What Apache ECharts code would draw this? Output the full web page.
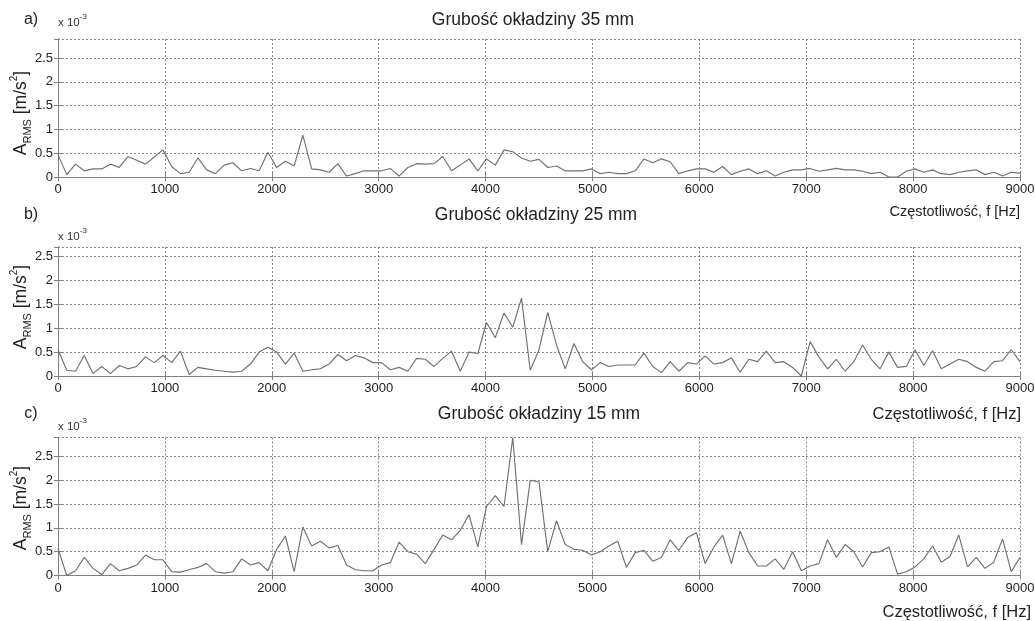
<!DOCTYPE html>
<html>
<head>
<meta charset="utf-8">
<title>Grubość okładziny – widmo A_RMS</title>
<script src="https://cdn.jsdelivr.net/npm/echarts@6/dist/echarts.min.js"></script>
<style>
  html, body { margin: 0; padding: 0; background: #fff; }
  #chart { width: 1035px; height: 621px; }
</style>
</head>
<body>
<div id="chart"></div>
<script>
// Spectrum bins: 0 … 9000 Hz split into 110 equal bins (111 points).
const FREQ_MAX_HZ = 9000;
const BIN_COUNT = 110;
const xTicks = [0, 1000, 2000, 3000, 4000, 5000, 6000, 7000, 8000, 9000];
const yTicks = [0, 0.5, 1, 1.5, 2, 2.5];

const panelLetters = ['a)', 'b)', 'c)'];
const panelTitles = ['Grubość okładziny 35 mm', 'Grubość okładziny 25 mm', 'Grubość okładziny 15 mm'];
const yMax = [2.9, 2.7, 2.9];

// A_RMS in units of 1e-3 m/s^2
const arms35 = [
  0.47, 0.05, 0.27, 0.13, 0.17, 0.17, 0.27, 0.20, 0.43, 0.35,
  0.27, 0.42, 0.57, 0.22, 0.07, 0.10, 0.40, 0.15, 0.07, 0.25,
  0.30, 0.13, 0.18, 0.13, 0.52, 0.20, 0.33, 0.23, 0.88, 0.17,
  0.15, 0.10, 0.28, 0.02, 0.07, 0.13, 0.13, 0.13, 0.18, 0.02,
  0.20, 0.28, 0.27, 0.28, 0.43, 0.13, 0.25, 0.38, 0.13, 0.38,
  0.25, 0.57, 0.53, 0.40, 0.33, 0.37, 0.20, 0.23, 0.13, 0.13,
  0.13, 0.17, 0.07, 0.10, 0.07, 0.07, 0.13, 0.38, 0.30, 0.38,
  0.32, 0.07, 0.13, 0.17, 0.17, 0.10, 0.22, 0.05, 0.12, 0.17,
  0.07, 0.13, 0.02, 0.10, 0.15, 0.15, 0.18, 0.12, 0.15, 0.18,
  0.15, 0.15, 0.12, 0.07, 0.10, 0.00, 0.00, 0.12, 0.17, 0.10,
  0.15, 0.07, 0.05, 0.10, 0.13, 0.15, 0.05, 0.10, 0.02, 0.10, 0.08
];
const arms25 = [
  0.55, 0.12, 0.10, 0.43, 0.05, 0.20, 0.05, 0.22, 0.15, 0.20,
  0.40, 0.28, 0.43, 0.28, 0.52, 0.03, 0.18, 0.15, 0.12, 0.10,
  0.08, 0.10, 0.25, 0.50, 0.60, 0.50, 0.25, 0.48, 0.10, 0.13,
  0.15, 0.25, 0.45, 0.32, 0.43, 0.38, 0.28, 0.28, 0.13, 0.18,
  0.10, 0.37, 0.35, 0.20, 0.37, 0.52, 0.10, 0.50, 0.47, 1.12,
  0.80, 1.32, 1.02, 1.63, 0.12, 0.55, 1.33, 0.65, 0.15, 0.68,
  0.30, 0.13, 0.28, 0.20, 0.23, 0.23, 0.23, 0.48, 0.20, 0.07,
  0.30, 0.10, 0.28, 0.25, 0.42, 0.25, 0.28, 0.38, 0.08, 0.35,
  0.30, 0.52, 0.28, 0.30, 0.18, 0.00, 0.72, 0.40, 0.15, 0.35,
  0.10, 0.30, 0.65, 0.35, 0.15, 0.50, 0.18, 0.20, 0.55, 0.22,
  0.53, 0.15, 0.25, 0.35, 0.30, 0.18, 0.10, 0.30, 0.32, 0.55, 0.30
];
const arms15 = [
  0.57, 0.00, 0.10, 0.38, 0.15, 0.02, 0.25, 0.10, 0.15, 0.22,
  0.43, 0.33, 0.33, 0.08, 0.07, 0.12, 0.17, 0.25, 0.08, 0.05,
  0.08, 0.35, 0.22, 0.27, 0.10, 0.55, 0.83, 0.08, 1.02, 0.62,
  0.72, 0.58, 0.63, 0.22, 0.12, 0.10, 0.10, 0.22, 0.27, 0.70,
  0.50, 0.45, 0.25, 0.55, 0.85, 0.75, 0.95, 1.28, 0.60, 1.45,
  1.68, 1.45, 2.90, 0.65, 2.00, 1.97, 0.50, 1.15, 0.65, 0.55,
  0.53, 0.43, 0.50, 0.62, 0.72, 0.17, 0.48, 0.53, 0.30, 0.38,
  0.75, 0.53, 0.80, 0.90, 0.25, 0.60, 0.85, 0.25, 0.93, 0.48,
  0.20, 0.20, 0.35, 0.13, 0.50, 0.10, 0.20, 0.25, 0.75, 0.38,
  0.65, 0.50, 0.18, 0.48, 0.50, 0.60, 0.03, 0.08, 0.18, 0.35,
  0.62, 0.28, 0.40, 0.85, 0.18, 0.38, 0.15, 0.28, 0.77, 0.08, 0.38
];
const panelSeries = [arms35, arms25, arms15];

const FONT = '"Liberation Sans", Arial, Helvetica, sans-serif';
const AXIS_COLOR = '#808080';
const LINE_COLOR = '#707070';
const TEXT_COLOR = '#222';

// Plot boxes (px)
const grids = [
  { left: 58, right: 15, top: 39, height: 138 },
  { left: 58, right: 15, top: 247, height: 129 },
  { left: 58, right: 15, top: 437.5, height: 138 }
];

const binWidth = FREQ_MAX_HZ / BIN_COUNT;
const toPoints = vals => vals.map((v, i) => [i * binWidth, v]);

const xAxes = [], yAxes = [], series = [];
grids.forEach((g, k) => {
  const xCommon = {
    gridIndex: k, type: 'value', min: xTicks[0], max: xTicks[xTicks.length - 1],
    interval: xTicks[1] - xTicks[0],
    axisLine: { show: true, lineStyle: { color: AXIS_COLOR, width: 1 } },
    axisTick: { show: true, inside: true, length: 4, lineStyle: { color: AXIS_COLOR } }
  };
  xAxes.push(Object.assign({}, xCommon, {
    position: 'bottom',
    axisLabel: { margin: 6, fontSize: 13, color: TEXT_COLOR, fontFamily: FONT,
                 formatter: v => String(v) },
    splitLine: { show: true, lineStyle: { type: [2, 2], color: '#6a6a6a', width: 0.8 } }
  }));
  xAxes.push(Object.assign({}, xCommon, {
    position: 'top', axisLabel: { show: false }, splitLine: { show: false }
  }));

  const yCommon = {
    gridIndex: k, type: 'value', min: yTicks[0], max: yMax[k],
    interval: yTicks[1] - yTicks[0],
    axisLine: { show: true, lineStyle: { color: AXIS_COLOR, width: 1 } },
    axisTick: { show: true, inside: true, length: 4, lineStyle: { color: AXIS_COLOR } }
  };
  yAxes.push(Object.assign({}, yCommon, {
    position: 'left',
    axisLabel: {
      margin: 5, fontSize: 13, color: TEXT_COLOR, fontFamily: FONT, showMaxLabel: false,
      formatter: v => (yTicks.indexOf(v) >= 0 ? String(v) : '')
    },
    splitLine: { show: true, lineStyle: { type: [2, 2], color: '#6a6a6a', width: 0.8 } }
  }));
  yAxes.push(Object.assign({}, yCommon, {
    position: 'right', axisLabel: { show: false }, splitLine: { show: false }
  }));

  series.push({
    type: 'line', xAxisIndex: 2 * k, yAxisIndex: 2 * k,
    data: toPoints(panelSeries[k]),
    showSymbol: false, symbol: 'none', silent: true, animation: false,
    lineStyle: { color: LINE_COLOR, width: 1.15 }
  });
});

// Text furniture around each panel
const letterY = [20, 215, 414];
const titleX = [533, 536, 539];
const expY = [21, 235, 425];
const yNameY = [113, 307, 508];
const graphic = [];
grids.forEach((g, k) => {
  graphic.push({
    type: 'text', x: 31, y: letterY[k],
    style: { text: panelLetters[k], font: '16px ' + FONT, fill: TEXT_COLOR,
             textAlign: 'center', textVerticalAlign: 'middle', align: 'center', verticalAlign: 'middle' }
  });
  graphic.push({
    type: 'text', x: titleX[k], y: letterY[k],
    style: { text: panelTitles[k], font: '17.5px ' + FONT, fill: TEXT_COLOR,
             textAlign: 'center', textVerticalAlign: 'middle', align: 'center', verticalAlign: 'middle' }
  });
  graphic.push({
    type: 'text', x: 58, y: expY[k],
    style: {
      text: '{n|x 10}{e|-3}', fill: '#333',
      textAlign: 'left', textVerticalAlign: 'middle', align: 'left', verticalAlign: 'middle',
      rich: {
        n: { fontSize: 11.5, fontFamily: FONT, lineHeight: 16, verticalAlign: 'bottom', fill: '#333' },
        e: { fontSize: 8, fontFamily: FONT, lineHeight: 16, verticalAlign: 'top', fill: '#333' }
      }
    }
  });
  graphic.push({
    type: 'text', x: 21, y: yNameY[k], rotation: Math.PI / 2,
    style: {
      text: '{a|A}{s|RMS}{a| [m/s}{p|2}{a|]}', fill: TEXT_COLOR,
      textAlign: 'center', textVerticalAlign: 'middle', align: 'center', verticalAlign: 'middle',
      rich: {
        a: { fontSize: 17.5, fontFamily: FONT, lineHeight: 24, verticalAlign: 'middle', fill: TEXT_COLOR },
        s: { fontSize: 11, fontFamily: FONT, lineHeight: 13, verticalAlign: 'bottom', fill: TEXT_COLOR },
        p: { fontSize: 10, fontFamily: FONT, lineHeight: 12, verticalAlign: 'top', fill: TEXT_COLOR }
      }
    }
  });
});

// Frequency axis captions
const freqCaption = 'Częstotliwość, f [Hz]';
[[1020, 212, 14.5], [1021, 414, 16.5], [1031, 612, 16.5]].forEach(([x, y, fs]) => {
  graphic.push({
    type: 'text', x: x, y: y,
    style: { text: freqCaption, font: fs + 'px ' + FONT, fill: TEXT_COLOR,
             textAlign: 'right', textVerticalAlign: 'middle', align: 'right', verticalAlign: 'middle' }
  });
});

const chart = echarts.init(document.getElementById('chart'), null, { renderer: 'canvas' });
chart.setOption({
  animation: false,
  backgroundColor: '#fff',
  grid: grids.map(g => Object.assign({ outerBoundsMode: 'none', containLabel: false }, g)),
  xAxis: xAxes,
  yAxis: yAxes,
  series: series,
  graphic: graphic
});
</script>
</body>
</html>
